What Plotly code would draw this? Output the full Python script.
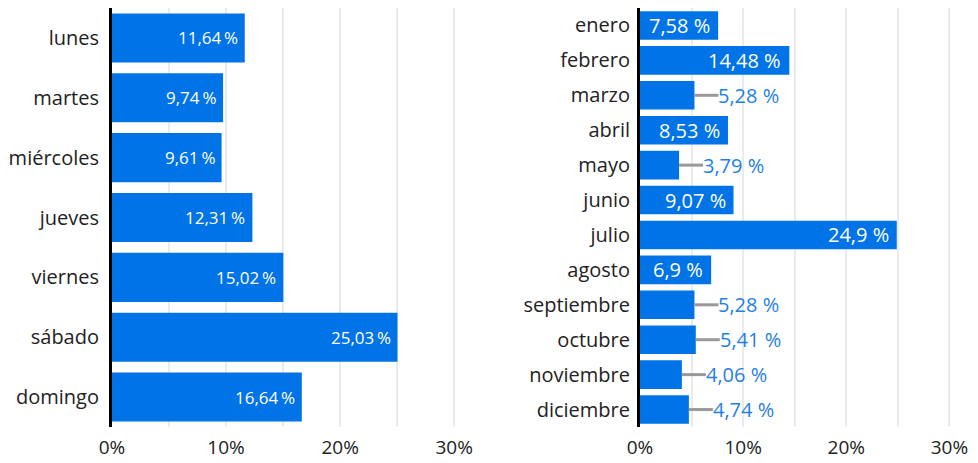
import plotly.graph_objects as go

days = ["lunes", "martes", "miércoles", "jueves", "viernes", "sábado", "domingo"]
day_values = [11.64, 9.74, 9.61, 12.31, 15.02, 25.03, 16.64]

months = ["enero", "febrero", "marzo", "abril", "mayo", "junio", "julio",
          "agosto", "septiembre", "octubre", "noviembre", "diciembre"]
month_values = [7.58, 14.48, 5.28, 8.53, 3.79, 9.07, 24.9, 6.9, 5.28, 5.41, 4.06, 4.74]

BAR = "#0073E6"
OUT_TEXT = "#1F80E6"
GRID = "#EBEBEB"
FONT = "Open Sans"
# page body has an 8px default margin, so the figure is 8px smaller than the window
W, H = 970, 455
OFF = 8
XMAX = 32
INSIDE_MIN = 6


def fmt(v):
    s = f"{v:.2f}".rstrip("0").rstrip(".")
    return s.replace(".", ",")


fig = go.Figure()
fig.add_trace(go.Bar(x=day_values, y=days, orientation="h", marker_color=BAR,
                     marker_line_width=0, xaxis="x", yaxis="y", hoverinfo="skip"))
fig.add_trace(go.Bar(x=month_values, y=months, orientation="h", marker_color=BAR,
                     marker_line_width=0, xaxis="x2", yaxis="y2", hoverinfo="skip"))

annotations = []
shapes = []
for i, v in enumerate(day_values):
    annotations.append(dict(x=v, y=i, xref="x", yref="y", text=fmt(v) + "\u2009%",
                            xanchor="right", xshift=-5, showarrow=False,
                            font=dict(family=FONT, size=17, color="white")))
for i, v in enumerate(month_values):
    if v >= INSIDE_MIN:
        annotations.append(dict(x=v, y=i, xref="x2", yref="y2", text=fmt(v) + " %",
                                xanchor="right", xshift=-6, showarrow=False,
                                font=dict(family=FONT, size=20, color="white")))
    else:
        annotations.append(dict(x=v, y=i, xref="x2", yref="y2", text=fmt(v) + " %",
                                xanchor="left", xshift=22, showarrow=False,
                                font=dict(family=FONT, size=20, color=OUT_TEXT)))
        shapes.append(dict(type="line", xref="x2", yref="y2", xsizemode="pixel",
                           xanchor=v, x0=0, x1=24, y0=i, y1=i,
                           line=dict(color="#999999", width=3), layer="above"))

xcommon = dict(range=[0, XMAX], dtick=10, ticksuffix="%", showgrid=True,
               gridcolor=GRID, gridwidth=2, zeroline=False, showline=False,
               ticks="", automargin=False, ticklabelstandoff=7,
               tickfont=dict(family=FONT, size=19, color="#222"),
               minor=dict(dtick=5, showgrid=True, gridcolor=GRID, gridwidth=2),
               fixedrange=True)
ycommon = dict(autorange="reversed", showline=True, linecolor="black", linewidth=3,
               showgrid=False, ticks="", automargin=False,
               tickfont=dict(family=FONT, size=20, color="#222"), fixedrange=True)

fig.update_layout(
    width=W, height=H,
    margin=dict(l=0, r=0, t=0, b=36, autoexpand=False),
    paper_bgcolor="white", plot_bgcolor="white",
    showlegend=False,
    bargap=0.18,
    xaxis=dict(domain=[(112 - OFF) / W, (477 - OFF) / W], anchor="y", **xcommon),
    yaxis=dict(domain=[0, 1], anchor="x", ticklabelstandoff=6, **ycommon),
    xaxis2=dict(domain=[(640 - OFF) / W, (970 - OFF) / W], anchor="y2", **xcommon),
    yaxis2=dict(domain=[0, 1], anchor="x2", ticklabelstandoff=3, **ycommon),
    annotations=annotations,
    shapes=shapes,
    font=dict(family=FONT),
)

fig.write_html("out.html")
